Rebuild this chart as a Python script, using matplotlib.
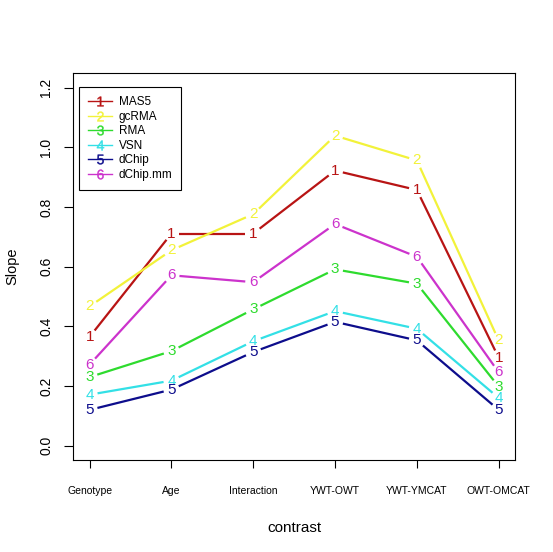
import numpy as np
import matplotlib
matplotlib.use("Agg")
import matplotlib.pyplot as plt
from matplotlib.lines import Line2D

plt.rcParams['font.family'] = ['Liberation Sans', 'DejaVu Sans']
plt.rcParams['mathtext.fontset'] = 'custom'
plt.rcParams['mathtext.rm'] = 'Liberation Sans'

contrasts = ["Genotype", "Age", "Interaction", "YWT-OWT", "YWT-YMCAT", "OWT-OMCAT"]
methods = ["MAS5", "gcRMA", "RMA", "VSN", "dChip", "dChip.mm"]
colors = ["#B81414", "#F2F23A", "#2EDB2E", "#33E0E6", "#0D0D8C", "#CC33CC"]

mas5 = [0.365, 0.711, 0.711, 0.922, 0.857, 0.295]
gcrma = [0.467, 0.655, 0.776, 1.039, 0.956, 0.353]
rma = [0.230, 0.317, 0.457, 0.591, 0.543, 0.198]
vsn = [0.171, 0.218, 0.350, 0.451, 0.392, 0.160]
dchip = [0.120, 0.188, 0.314, 0.415, 0.353, 0.120]
dchip_mm = [0.272, 0.571, 0.548, 0.743, 0.633, 0.246]
series = [mas5, gcrma, rma, vsn, dchip, dchip_mm]

x = np.arange(1, len(contrasts) + 1)

fig = plt.figure(figsize=(5.53, 5.52), dpi=100)
ax = fig.add_axes([73.3 / 553, 1 - 460 / 552, (515 - 73.3) / 553, (460 - 73.3) / 552])
ax.set_xlim(0.8, 6.2)
ax.set_ylim(-0.048, 1.248)

# type="b" style: segments stop short of the point characters
gap = 8
for k, (ys, c) in enumerate(zip(series, colors)):
    pts = ax.transData.transform(np.column_stack([x, ys]))
    for i in range(len(pts) - 1):
        p0, p1 = pts[i], pts[i + 1]
        d = p1 - p0
        u = d / np.hypot(*d)
        seg = ax.transData.inverted().transform([p0 + u * gap, p1 - u * gap])
        ax.plot(seg[:, 0], seg[:, 1], color=c, lw=1.6, solid_capstyle='butt')
    for xi, yi in zip(x, ys):
        ax.text(xi, yi, str(k + 1), color=c, fontsize=11, ha='center', va='center')

ax.set_xticks(x)
ax.set_xticklabels(contrasts, fontsize=7.5)
ax.set_yticks(np.arange(0, 1.21, 0.2))
ax.set_yticklabels(["%.1f" % v for v in np.arange(0, 1.21, 0.2)], fontsize=10,
                   rotation=90, va='center')
ax.tick_params(axis='x', length=6, width=0.8, pad=13)
ax.tick_params(axis='y', length=6.5, width=0.8, pad=8)
for s in ax.spines.values():
    s.set_linewidth(0.8)

ax.set_xlabel("contrast", fontsize=11, labelpad=18)
ax.set_ylabel("Slope", fontsize=10.5, labelpad=14)

handles = [Line2D([], [], color=c, lw=1, marker="$%d$" % (i + 1), markersize=7,
                  markeredgewidth=0.3)
           for i, c in enumerate(colors)]
leg = ax.legend(handles, methods, loc='upper left', bbox_to_anchor=(0.0136, 0.964),
                fontsize=8.5, frameon=True, fancybox=False, edgecolor='black',
                framealpha=1, borderaxespad=0, handlelength=2.0, handletextpad=0.6,
                labelspacing=0.22, borderpad=0.75)
leg.get_frame().set_linewidth(0.8)

fig.savefig("out.png", dpi=100)
